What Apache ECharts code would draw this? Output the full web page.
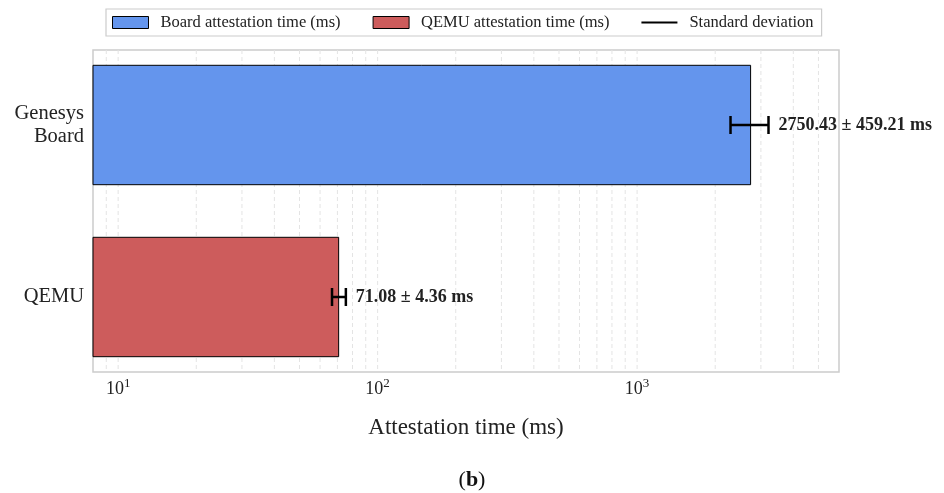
<!DOCTYPE html>
<html>
<head>
<meta charset="utf-8">
<script src="https://cdn.jsdelivr.net/npm/echarts@6/dist/echarts.min.js"></script>
<style>
  html, body { margin: 0; padding: 0; background: #fff; }
  #chart { width: 944px; height: 493px; }
</style>
</head>
<body>
<div id="chart"></div>
<script>
// data
const categories = ['Genesys\nBoard', 'QEMU'];
const meanTimes = [2750.43, 71.08];
const stdDevs = [459.21, 4.36];
const seriesNames = ['Board attestation time (ms)', 'QEMU attestation time (ms)', 'Standard deviation'];
const barColors = ['#6495ED', '#CD5C5C'];
const xMin = 8;
const xMax = 6000;

const FONT = '"Liberation Serif", "Times New Roman", serif';

// faint dashed grid at every major + minor log position
const gridVals = [];
[1, 10, 100, 1000].forEach(d => {
  for (let k = 1; k <= 9; k++) {
    const v = k * d;
    if (v > xMin && v < xMax) gridVals.push(v);
  }
});

const errData = meanTimes.map((m, i) => [m - stdDevs[i], m + stdDevs[i], i]);

const chart = echarts.init(document.getElementById('chart'));

const option = {
  animation: false,
  backgroundColor: '#fff',
  title: {
    text: '({b|b})',
    left: 'center',
    top: 464,
    textStyle: {
      fontFamily: FONT, fontSize: 22, fontWeight: 'normal', color: '#111',
      rich: { b: { fontFamily: FONT, fontSize: 22, fontWeight: 'bold', color: '#111' } }
    }
  },
  legend: {
    left: 106,
    top: 9,
    padding: [5, 8, 5, 6],
    borderColor: '#cccccc',
    borderWidth: 1.2,
    itemWidth: 36,
    itemHeight: 12,
    itemGap: 32,
    itemStyle: { borderWidth: 1 },
    textStyle: { fontFamily: FONT, fontSize: 16.5, color: '#222', padding: [0, 0, 0, 7] },
    data: [
      { name: seriesNames[0], icon: 'rect' },
      { name: seriesNames[1], icon: 'rect' },
      { name: seriesNames[2], icon: 'path://M0,0 M0,12 M0,5 L36,5 L36,7 L0,7 Z' }
    ]
  },
  grid: [
    // frame + axis
    { left: 93, right: 105, top: 50, bottom: 121, show: true, borderColor: '#cccccc', borderWidth: 1.5, backgroundColor: 'transparent' },
    // bars (band slightly taller than the frame, like matplotlib's ylim)
    { left: 93, right: 105, top: 39, bottom: 110 }
  ],
  xAxis: [
    {
      type: 'log', gridIndex: 0, logBase: 10, min: xMin, max: xMax,
      axisLine: { show: false },
      axisTick: { show: false },
      splitLine: { show: false },
      axisLabel: {
        margin: 5,
        color: '#222',
        fontFamily: FONT,
        fontSize: 18,
        showMinLabel: false,
        showMaxLabel: false,
        formatter: v => {
          const e = Math.round(Math.log10(v));
          if (Math.abs(Math.pow(10, e) - v) < 1e-6 * v) return '{base|10}{sup|' + e + '}';
          return '';
        },
        rich: {
          base: { fontFamily: FONT, fontSize: 18, color: '#222', lineHeight: 21, verticalAlign: 'bottom' },
          sup: { fontFamily: FONT, fontSize: 13, color: '#222', lineHeight: 13, verticalAlign: 'top' }
        }
      },
      name: 'Attestation time (ms)',
      nameLocation: 'middle',
      nameGap: 44,
      nameTextStyle: { fontFamily: FONT, fontSize: 23, color: '#222' }
    },
    { type: 'log', gridIndex: 1, logBase: 10, min: xMin, max: xMax, show: false }
  ],
  yAxis: [
    { type: 'value', gridIndex: 0, min: 0, max: 1, show: false },
    {
      type: 'category', gridIndex: 1, data: categories, inverse: true,
      axisLine: { show: false },
      axisTick: { show: false },
      splitLine: { show: false },
      axisLabel: { margin: 9, color: '#222', fontFamily: FONT, fontSize: 20.5, lineHeight: 23 }
    }
  ],
  series: [
    {
      name: 'grid',
      type: 'custom',
      xAxisIndex: 0, yAxisIndex: 0,
      silent: true,
      z: 1,
      data: gridVals.map(v => [v]),
      encode: { x: 0 },
      renderItem: (params, api) => {
        const cs = params.coordSys;
        const x = api.coord([api.value(0), 0])[0];
        return {
          type: 'line',
          shape: { x1: x, y1: cs.y, x2: x, y2: cs.y + cs.height },
          style: { stroke: '#e4e4e4', lineWidth: 1, lineDash: [4, 3] }
        };
      }
    },
    {
      name: seriesNames[0],
      type: 'bar',
      xAxisIndex: 1, yAxisIndex: 1,
      barWidth: '70%',
      barGap: '-100%',
      z: 3,
      itemStyle: { color: barColors[0], borderColor: '#000', borderWidth: 1 },
      data: [meanTimes[0], '-']
    },
    {
      name: seriesNames[1],
      type: 'bar',
      xAxisIndex: 1, yAxisIndex: 1,
      barWidth: '70%',
      barGap: '-100%',
      z: 3,
      itemStyle: { color: barColors[1], borderColor: '#000', borderWidth: 1 },
      data: ['-', meanTimes[1]]
    },
    {
      name: seriesNames[2],
      type: 'custom',
      xAxisIndex: 1, yAxisIndex: 1,
      z: 5,
      itemStyle: { color: '#000' },
      encode: { x: [0, 1], y: 2 },
      data: errData,
      renderItem: (params, api) => {
        const i = params.dataIndex;
        const p1 = api.coord([api.value(0), api.value(2)]);
        const p2 = api.coord([api.value(1), api.value(2)]);
        const cap = 9;
        const st = { stroke: '#000', lineWidth: 2.5 };
        return {
          type: 'group',
          children: [
            { type: 'line', shape: { x1: p1[0], y1: p1[1], x2: p2[0], y2: p2[1] }, style: st },
            { type: 'line', shape: { x1: p1[0], y1: p1[1] - cap, x2: p1[0], y2: p1[1] + cap }, style: st },
            { type: 'line', shape: { x1: p2[0], y1: p2[1] - cap, x2: p2[0], y2: p2[1] + cap }, style: st },
            {
              type: 'text', x: p2[0] + 10, y: p2[1],
              style: {
                text: meanTimes[i].toFixed(2) + ' \u00b1 ' + stdDevs[i].toFixed(2) + ' ms',
                fontFamily: FONT, fontSize: 18, fontWeight: 'bold', fill: '#222',
                align: 'left', verticalAlign: 'middle'
              }
            }
          ]
        };
      }
    }
  ]
};

chart.setOption(option);
</script>
</body>
</html>
